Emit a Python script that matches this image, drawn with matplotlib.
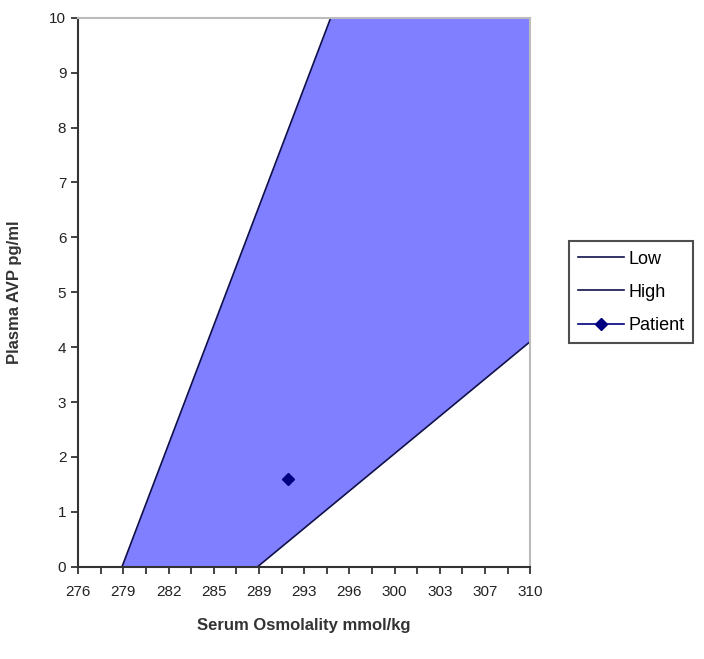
import numpy as np
import matplotlib
matplotlib.use('Agg')
import matplotlib.pyplot as plt
from matplotlib.ticker import FixedLocator

plt.rcParams['font.family'] = ['Liberation Sans', 'DejaVu Sans']

# values
low_x = [279.3, 295.0]
low_y = [0.0, 10.0]
high_x = [289.5, 310.0]
high_y = [0.0, 4.1]
patient_x = [291.8]
patient_y = [1.6]

x_min, x_max = 276, 310
y_min, y_max = 0, 10
x_tick_labels = ['276', '279', '282', '285', '289', '293', '296', '300', '303', '307', '310']

fig = plt.figure(figsize=(7.04, 6.59), dpi=100)
ax = fig.add_axes([0.111, 0.140, 0.642, 0.833])

# shaded normal range: left of high line, right of low line
poly_x = [low_x[0], low_x[1], x_max, high_x[1], high_x[0]]
poly_y = [low_y[0], low_y[1], y_max, high_y[1], high_y[0]]
ax.fill(poly_x, poly_y, color='#7f7fff', lw=0, zorder=1)

ax.plot(low_x, low_y, color='#10104a', lw=1.2, label='Low', zorder=2)
ax.plot(high_x, high_y, color='#10104a', lw=1.2, label='High', zorder=2)
ax.plot(patient_x, patient_y, color='#000080', marker='D', ms=6, lw=1.2,
        label='Patient', zorder=3)

ax.set_xlim(x_min, x_max)
ax.set_ylim(y_min, y_max)

ax.set_xticks(np.linspace(x_min, x_max, len(x_tick_labels)))
ax.set_xticklabels(x_tick_labels)
ax.xaxis.set_minor_locator(FixedLocator(np.linspace(x_min, x_max, 21)))
ax.set_yticks(range(0, 11))

ax.tick_params(axis='both', which='major', direction='out', length=5, width=1.2,
               labelsize=11, colors='#222222')
ax.tick_params(axis='x', which='major', pad=8)
ax.tick_params(axis='x', which='minor', direction='out', length=5, width=1.2,
               color='#222222')

for s in ['left', 'bottom']:
    ax.spines[s].set_color('#333333')
    ax.spines[s].set_linewidth(1.5)
for s in ['top', 'right']:
    ax.spines[s].set_color('#bbbbbb')
    ax.spines[s].set_linewidth(1.5)

ax.set_xlabel('Serum Osmolality mmol/kg', fontsize=12, fontweight='bold',
              color='#333333', labelpad=14)
ax.set_ylabel('Plasma AVP pg/ml', fontsize=12, fontweight='bold',
              color='#333333', labelpad=20)

leg = ax.legend(loc='center left', bbox_to_anchor=(1.065, 0.50), frameon=True,
                fancybox=False, shadow=False, fontsize=13, handlelength=2.6,
                handletextpad=0.2, borderpad=0.5, labelspacing=0.9)
leg.get_frame().set_edgecolor('#222222')
leg.get_frame().set_linewidth(1.5)

fig.savefig('out.png', dpi=100)
